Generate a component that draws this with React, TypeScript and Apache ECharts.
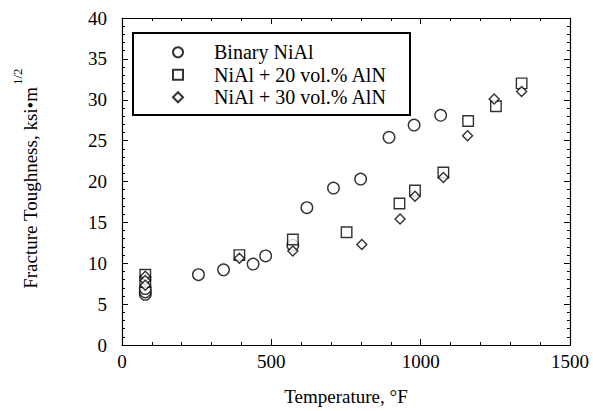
import React, { useEffect, useRef } from 'react';
import * as echarts from 'echarts';

// Temperature (°F) vs fracture toughness (ksi·m^1/2)
const seriesNames = ['Binary NiAl', 'NiAl + 20 vol.% AlN', 'NiAl + 30 vol.% AlN'];

const binaryNiAl: [number, number][] = [
  [78, 6.2], [78, 6.5], [78, 6.9], [256, 8.6], [340, 9.2], [439, 9.9], [481, 10.9],
  [572, 12.2], [619, 16.8], [708, 19.2], [799, 20.3], [894, 25.4], [978, 26.9], [1067, 28.1],
];

const alN20: [number, number][] = [
  [78, 8.6], [78, 7.7], [393, 11.0], [572, 12.9], [752, 13.8], [929, 17.3], [981, 18.9],
  [1076, 21.1], [1159, 27.4], [1252, 29.2], [1338, 32.0],
];

const alN30: [number, number][] = [
  [78, 8.4], [78, 7.9], [78, 7.3], [393, 10.6], [572, 11.5], [803, 12.3], [931, 15.4],
  [981, 18.2], [1076, 20.5], [1157, 25.6], [1246, 30.1], [1338, 31.0],
];

const xRange = { min: 0, max: 1500, interval: 500 };
const yRange = { min: 0, max: 40, interval: 5 };

const xTitle = 'Temperature, °F';
const yTitle = 'Fracture Toughness, ksi•m';
const yTitleSup = '1/2';

const FONT = 'Liberation Serif, Times New Roman, serif';

export default function App() {
  const ref = useRef<HTMLDivElement>(null);

  useEffect(() => {
    if (!ref.current) return;
    const chart = echarts.init(ref.current, undefined, { renderer: 'svg' });

    const line = { color: '#000', width: 1.2 };
    const baseAxis = {
      type: 'value' as const,
      axisLine: { show: true, onZero: false, lineStyle: line },
      axisTick: { show: true, inside: true, length: 6, lineStyle: { color: '#000', width: 1 } },
      minorTick: { show: true, splitNumber: 5, length: 3, lineStyle: { color: '#000', width: 1 } },
      splitLine: { show: false },
      minorSplitLine: { show: false },
    };

    const symStyle = { color: '#fff', borderColor: '#000', borderWidth: 1.4 };
    const fmt = (v: number) => String(v);

    chart.setOption({
      animation: false,
      backgroundColor: '#fff',
      textStyle: { fontFamily: FONT },
      grid: { left: 122, right: 23, top: 18, bottom: 62.5, containLabel: false },
      xAxis: [
        {
          ...baseAxis,
          ...xRange,
          position: 'bottom',
          axisLabel: { show: true, margin: 7, color: '#000', fontSize: 19, fontFamily: FONT, formatter: fmt },
          name: xTitle,
          nameLocation: 'middle',
          nameGap: 42,
          nameTextStyle: { color: '#000', fontSize: 19, fontFamily: FONT },
        },
        {
          ...baseAxis,
          ...xRange,
          position: 'top',
          axisLabel: { show: false },
        },
      ],
      yAxis: [
        {
          ...baseAxis,
          ...yRange,
          position: 'left',
          axisLabel: { show: true, margin: 15, color: '#000', fontSize: 19, fontFamily: FONT, formatter: fmt },
        },
        {
          ...baseAxis,
          ...yRange,
          position: 'right',
          axisLabel: { show: false },
        },
      ],
      legend: {
        orient: 'vertical',
        left: 172,
        top: 41,
        padding: 0,
        itemGap: 0,
        itemWidth: 10,
        itemHeight: 10,
        textStyle: { color: '#000', fontSize: 20, fontFamily: FONT, lineHeight: 22.5, padding: [0, 0, 0, 26] },
        data: seriesNames,
      },
      graphic: [
        {
          type: 'rect',
          shape: { x: 133, y: 33, width: 277, height: 82 },
          style: { fill: 'none', stroke: '#000', lineWidth: 2 },
          z: 10,
        },
        {
          type: 'text',
          x: 40,
          y: 87,
          rotation: Math.PI / 2,
          style: {
            text: yTitle,
            fontSize: 19,
            fontFamily: FONT,
            fill: '#000',
            textAlign: 'right',
            textVerticalAlign: 'bottom',
          },
        },
        {
          type: 'text',
          x: 24,
          y: 85,
          rotation: Math.PI / 2,
          style: {
            text: yTitleSup,
            fontSize: 13,
            fontFamily: FONT,
            fill: '#000',
            textAlign: 'left',
            textVerticalAlign: 'bottom',
          },
        },
      ],
      series: [
        {
          name: seriesNames[0],
          type: 'scatter',
          symbol: 'circle',
          symbolSize: 11.5,
          itemStyle: symStyle,
          data: binaryNiAl,
        },
        {
          name: seriesNames[1],
          type: 'scatter',
          symbol: 'rect',
          symbolSize: 10.5,
          itemStyle: symStyle,
          data: alN20,
        },
        {
          name: seriesNames[2],
          type: 'scatter',
          symbol: 'diamond',
          symbolSize: 10,
          itemStyle: symStyle,
          data: alN30,
        },
      ],
    });

    return () => chart.dispose();
  }, []);

  return (
    <div
      ref={ref}
      style={{ position: 'fixed', left: 0, top: 0, width: 593, height: 411, background: '#fff' }}
    />
  );
}
